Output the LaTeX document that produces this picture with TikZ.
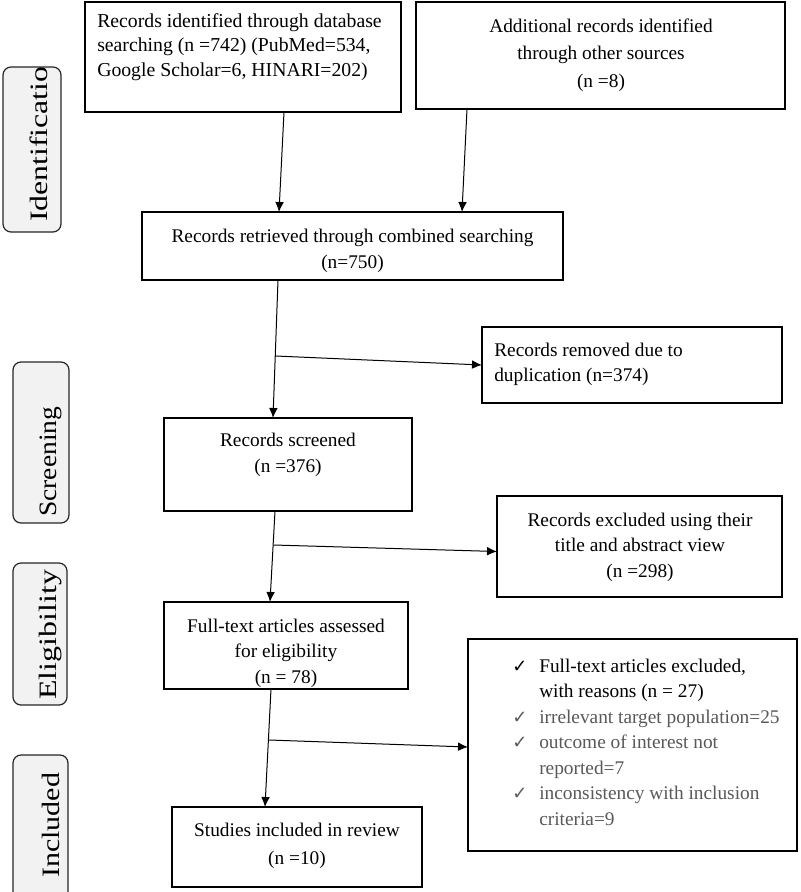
\documentclass[tikz,border=0pt]{standalone}
\usepackage{fontspec}
\setmainfont{Liberation Serif}
\newfontfamily\symfont{DejaVu Sans}
\usetikzlibrary{arrows.meta,calc}
\definecolor{labelfill}{HTML}{F2F2F2}
\definecolor{graytext}{HTML}{595959}
\newcommand{\ckmark}[1]{\makebox[20.25pt][l]{\textcolor{#1}{\symfont\fontsize{13.5}{13.5}\selectfont ✓}}}
\begin{document}
\begin{tikzpicture}[x=0.75pt,y=-0.75pt,
  boxwh/.style 2 args={draw=black, line width=0.9pt, rectangle, inner sep=0pt, outer sep=0pt,
     minimum width=#1*0.75pt, minimum height=#2*0.75pt},
  txt/.style={inner sep=0pt, align=center, font=\fontsize{14.5}{19.1}\selectfont},
  phase/.style={rotate=90, inner sep=0pt, anchor=base west, font=\fontsize{18.75}{20}\selectfont},
  phaseborder/.style={draw=black!85, line width=0.9pt, rounded corners=6},
  arr/.style={-{Latex[length=7.5pt,width=6.5pt]}, line width=0.75pt}]
\fill[white] (0,0) rectangle (800,892);
\useasboundingbox (0,0) rectangle (800,892);

% ---- phase labels ----
\begin{scope}
  \clip[rounded corners=6] (3,67) rectangle (61,232);
  \fill[labelfill] (3,67) rectangle (61,232);
  \node[phase] (lid) at (47,222) {\scalebox{1.27}[1]{Identification}};
\end{scope}
\draw[phaseborder] (3,67) rectangle (61,232);

\begin{scope}
  \clip[rounded corners=6] (13,362) rectangle (69,523);
  \fill[labelfill] (13,362) rectangle (69,523);
  \node[phase] (lsc) at (56,517) {\scalebox{1.1}[1]{Screening}};
\end{scope}
\draw[phaseborder] (13,362) rectangle (69,523);

\begin{scope}
  \clip[rounded corners=6] (13,563) rectangle (67,705);
  \fill[labelfill] (13,563) rectangle (67,705);
  \node[phase] (lel) at (56,700) {\scalebox{1.28}[1]{Eligibility}};
\end{scope}
\draw[phaseborder] (13,563) rectangle (67,705);

\begin{scope}
  \clip[rounded corners=6] (13,755) rectangle (68,910);
  \fill[labelfill] (13,755) rectangle (68,910);
  \node[phase] (lin) at (59,878) {\scalebox{1.2}[1]{Included}};
\end{scope}
\draw[phaseborder] (13,755) rectangle (68,910);

% ---- boxes ----
\node[boxwh={316}{110}] (A) at (243,57) {};
\node[boxwh={369}{107}] (B) at (600.5,55.5) {};
\node[boxwh={421}{68}]  (C) at (352.5,246) {};
\node[boxwh={300}{76}]  (D) at (632,365) {};
\node[boxwh={248}{93}]  (E) at (288,464.5) {};
\node[boxwh={285}{101}] (F) at (639.5,546.5) {};
\node[boxwh={244}{87}]  (G) at (286,645.5) {};
\node[boxwh={329}{212}] (H) at (632.5,745) {};
\node[boxwh={250}{80}]  (I) at (297,847) {};

% ---- texts ----
\node[txt, align=left, anchor=west, font=\fontsize{14.8}{18.4}\selectfont] (At) at (97,47)
  {Records identified through database\\searching (n =742) (PubMed=534,\\Google Scholar=6, HINARI=202)};
\node[txt, font=\fontsize{14.5}{20.6}\selectfont] (Bt) at (601,55)
  {Additional records identified\\through other sources\\(n =8)};
\node[txt, font=\fontsize{14.5}{19.5}\selectfont] (Ct) at (352.5,251)
  {Records retrieved through combined searching\\(n=750)};
\node[txt, align=left, anchor=west] (Dt) at (494,364.5)
  {Records removed due to\\duplication (n=374)};
\node[txt] (Et) at (288,455) {Records screened\\(n =376)};
\node[txt] (Ft) at (640,547) {Records excluded using their\\title and abstract view\\(n =298)};
\node[txt] (Gt) at (286,653) {Full-text articles assessed\\for eligibility\\(n = 78)};
\node[txt, font=\fontsize{14.5}{21}\selectfont] (It) at (297,846) {Studies included in review\\(n =10)};
\node[txt, align=left, anchor=west] (Ht) at (512,742)
  {\ckmark{black}Full-text articles excluded,\\
   \hspace*{20.25pt}with reasons (n = 27)\\
   \ckmark{graytext}\textcolor{graytext}{irrelevant target population=25}\\
   \ckmark{graytext}\textcolor{graytext}{outcome of interest not}\\
   \hspace*{20.25pt}\textcolor{graytext}{reported=7}\\
   \ckmark{graytext}\textcolor{graytext}{inconsistency with inclusion}\\
   \hspace*{20.25pt}\textcolor{graytext}{criteria=9}};

% ---- connectors ----
\draw[arr] ($(A.south)+(41,0)$) -- ($(C.north)+(-73.5,0)$);
\draw[arr] ($(B.south)+(-133.5,0)$) -- ($(C.north)+(109.5,0)$);
\draw[arr] ($(C.south)+(-74.5,0)$) -- ($(E.north)+(-15,0)$);
\coordinate (j1) at (275.5,356);
\draw[arr] (j1) -- (D.west);
\draw[arr] ($(E.south)+(-13,0)$) -- ($(G.north)+(-16,0)$);
\coordinate (j2) at (273.5,545);
\draw[arr] (j2) -- ($(F.west)+(0,5)$);
\draw[arr] ($(G.south)+(-15,0)$) -- ($(I.north)+(-32,0)$);
\coordinate (j3) at (269,740);
\draw[arr] (j3) -- ($(H.west)+(0,2)$);
\end{tikzpicture}
\end{document}
